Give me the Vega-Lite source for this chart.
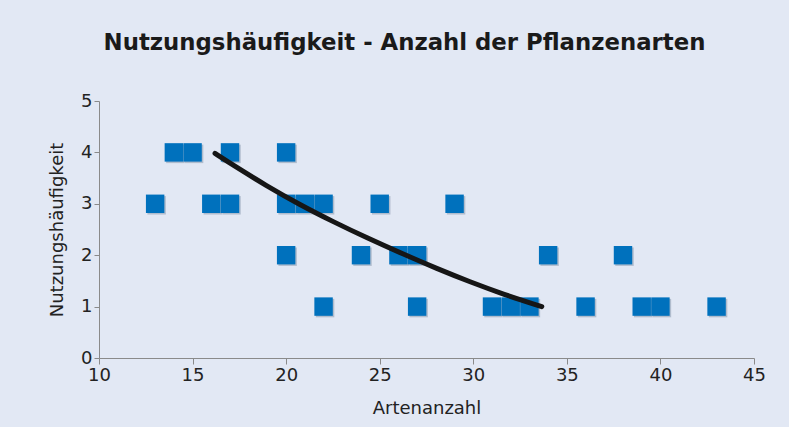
{
  "$schema": "https://vega.github.io/schema/vega-lite/v6.json",
  "width": 655,
  "height": 257,
  "autosize": {"type": "none"},
  "padding": {"left": 99, "top": 101, "right": 35, "bottom": 69},
  "background": "#e2e8f4",
  "config": {
    "view": {"stroke": null},
    "font": "DejaVu Sans"
  },
  "title": {
    "text": "Nutzungshäufigkeit - Anzahl der Pflanzenarten",
    "font": "DejaVu Sans",
    "fontSize": 22.8,
    "fontWeight": "bold",
    "color": "#1a1a1a",
    "anchor": "middle",
    "dx": -22,
    "offset": 37
  },
  "datasets": {
    "points": [
      {"Artenanzahl": 13, "Nutzung": 3},
      {"Artenanzahl": 14, "Nutzung": 4},
      {"Artenanzahl": 15, "Nutzung": 4},
      {"Artenanzahl": 16, "Nutzung": 3},
      {"Artenanzahl": 17, "Nutzung": 4},
      {"Artenanzahl": 17, "Nutzung": 3},
      {"Artenanzahl": 20, "Nutzung": 4},
      {"Artenanzahl": 20, "Nutzung": 3},
      {"Artenanzahl": 20, "Nutzung": 2},
      {"Artenanzahl": 21, "Nutzung": 3},
      {"Artenanzahl": 22, "Nutzung": 3},
      {"Artenanzahl": 22, "Nutzung": 1},
      {"Artenanzahl": 24, "Nutzung": 2},
      {"Artenanzahl": 25, "Nutzung": 3},
      {"Artenanzahl": 26, "Nutzung": 2},
      {"Artenanzahl": 27, "Nutzung": 2},
      {"Artenanzahl": 27, "Nutzung": 1},
      {"Artenanzahl": 29, "Nutzung": 3},
      {"Artenanzahl": 31, "Nutzung": 1},
      {"Artenanzahl": 32, "Nutzung": 1},
      {"Artenanzahl": 33, "Nutzung": 1},
      {"Artenanzahl": 34, "Nutzung": 2},
      {"Artenanzahl": 36, "Nutzung": 1},
      {"Artenanzahl": 38, "Nutzung": 2},
      {"Artenanzahl": 39, "Nutzung": 1},
      {"Artenanzahl": 40, "Nutzung": 1},
      {"Artenanzahl": 43, "Nutzung": 1}
    ],
    "curve": [
      {"Artenanzahl": 16.2, "Nutzung": 3.98},
      {"Artenanzahl": 17.17, "Nutzung": 3.75},
      {"Artenanzahl": 18.95, "Nutzung": 3.35},
      {"Artenanzahl": 20.74, "Nutzung": 2.98},
      {"Artenanzahl": 22.52, "Nutzung": 2.65},
      {"Artenanzahl": 24.3, "Nutzung": 2.34},
      {"Artenanzahl": 26.26, "Nutzung": 2.02},
      {"Artenanzahl": 28.05, "Nutzung": 1.74},
      {"Artenanzahl": 29.83, "Nutzung": 1.48},
      {"Artenanzahl": 31.61, "Nutzung": 1.24},
      {"Artenanzahl": 33.66, "Nutzung": 1.0}
    ]
  },
  "encoding": {
    "x": {
      "field": "Artenanzahl",
      "type": "quantitative",
      "scale": {"domain": [10, 45], "nice": false, "zero": false},
      "axis": {
        "title": "Artenanzahl",
        "values": [10, 15, 20, 25, 30, 35, 40, 45],
        "grid": false,
        "labelFlush": false,
        "domainColor": "#8a8a8a",
        "tickColor": "#8a8a8a",
        "tickSize": 6,
        "labelFontSize": 18,
        "labelColor": "#222222",
        "labelPadding": 2,
        "titleFontSize": 18,
        "titleFontWeight": "normal",
        "titleColor": "#222222",
        "titlePadding": 15
      }
    },
    "y": {
      "field": "Nutzung",
      "type": "quantitative",
      "scale": {"domain": [0, 5], "nice": false},
      "axis": {
        "title": "Nutzungshäufigkeit",
        "values": [0, 1, 2, 3, 4, 5],
        "grid": false,
        "labelFlush": false,
        "domainColor": "#8a8a8a",
        "tickColor": "#8a8a8a",
        "tickSize": 5,
        "labelFontSize": 18,
        "labelColor": "#222222",
        "labelPadding": 2,
        "titleFontSize": 18,
        "titleFontWeight": "normal",
        "titleColor": "#222222",
        "titlePadding": 14
      }
    }
  },
  "layer": [
    {
      "data": {"name": "points"},
      "mark": {"type": "square", "filled": true, "size": 340, "color": "#8797ad", "opacity": 0.55, "xOffset": 1.5, "yOffset": 1.5}
    },
    {
      "data": {"name": "points"},
      "mark": {"type": "square", "filled": true, "size": 340, "color": "#0071bd", "opacity": 1}
    },
    {
      "data": {"name": "curve"},
      "mark": {"type": "line", "color": "#161616", "strokeWidth": 5, "interpolate": "basis", "strokeCap": "round"}
    }
  ]
}
